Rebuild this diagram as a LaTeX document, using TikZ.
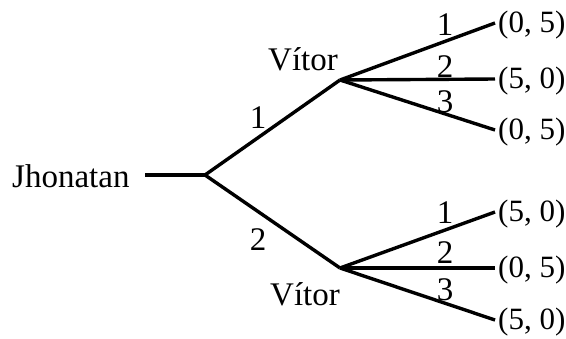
\documentclass[tikz,border=0pt]{standalone}
\usepackage{fontspec}
\setmainfont{Liberation Serif}
\begin{document}
\begin{tikzpicture}[x=1pt,y=-1pt,
  edge/.style={line width=3.4pt},
  lbl/.style={inner sep=0pt,font=\fontsize{33}{38}\selectfont},
  branchlbl/.style={lbl,anchor=base},
  payoff/.style={inner sep=0pt,anchor=base west,font=\fontsize{31}{36}\selectfont}]
\useasboundingbox (0,0) rectangle (566,338);
% decision points
\coordinate (root) at (205,175);
\coordinate (va) at (340,80);
\coordinate (vb) at (340,268);
% terminal ends
\coordinate (a1) at (495,23);
\coordinate (a2) at (495,79);
\coordinate (a3) at (495,130);
\coordinate (b1) at (495,212);
\coordinate (b2) at (495,268);
\coordinate (b3) at (495,320);
\coordinate (start) at (145,175);
% players
\node[lbl,anchor=base west] (j) at (12,187) {Jhonatan};
\node[lbl,anchor=base west] (vta) at (268,70) {Vítor};
\node[lbl,anchor=base west] (vtb) at (270,305) {Vítor};
% edges
\draw[edge] (start) -- (root);
\draw[edge] (root) -- (va);
\draw[edge] (root) -- (vb);
\foreach \t in {a1,a2,a3}{\draw[edge] (va) -- (\t);}
\foreach \t in {b1,b2,b3}{\draw[edge] (vb) -- (\t);}
% action labels
\node[branchlbl] (l1) at (258,128) {1};
\node[branchlbl] (l2) at (258,250) {2};
\node[branchlbl] (la1) at (445,35) {1};
\node[branchlbl] (la2) at (445,77) {2};
\node[branchlbl] (la3) at (445,112) {3};
\node[branchlbl] (lb1) at (445,223) {1};
\node[branchlbl] (lb2) at (445,263) {2};
\node[branchlbl] (lb3) at (445,300) {3};
% payoffs
\node[payoff] (pa1) at (498,32) {(0, 5)};
\node[payoff] (pa2) at (498,88) {(5, 0)};
\node[payoff] (pa3) at (498,139) {(0, 5)};
\node[payoff] (pb1) at (498,221) {(5, 0)};
\node[payoff] (pb2) at (498,277) {(0, 5)};
\node[payoff] (pb3) at (498,329) {(5, 0)};
\end{tikzpicture}
\end{document}
